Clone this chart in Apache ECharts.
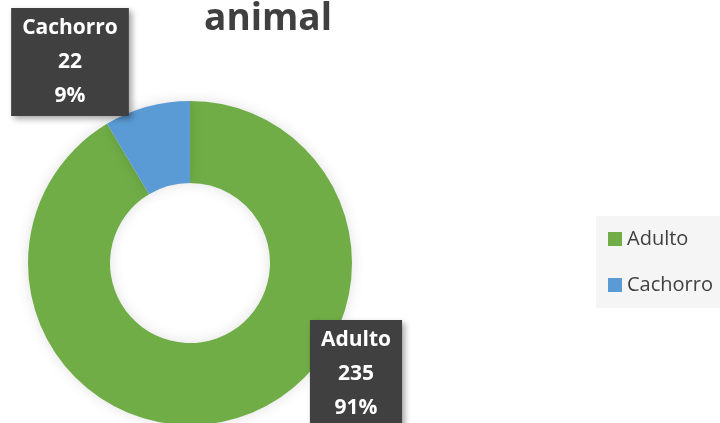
<!DOCTYPE html>
<html>
<head>
<meta charset="utf-8">
<script src="https://cdn.jsdelivr.net/npm/echarts@6/dist/echarts.min.js"></script>
<style>
    html, body { margin: 0; padding: 0; background: #fff; }
    #chart { width: 720px; height: 423px; }
</style>
</head>
<body>
<div id="chart"></div>
<script>
    let categories = ['Adulto', 'Cachorro'];
    let values = [235, 22];
    let colors = ['#70ad47', '#5b9bd5'];

    // label anchor points (centre of each box)
    let label_pos = [[356, 374], [70, 62]];

    let chart = echarts.init(document.getElementById('chart'));
    let option = {
        backgroundColor: '#ffffff',
        color: colors,
        title: {
            text: 'animal',
            left: 263,
            top: -4,
            textAlign: 'center',
            textStyle: {
                fontFamily: 'Open Sans',
                fontSize: 37,
                fontWeight: 'bold',
                color: '#404040'
            }
        },
        legend: {
            orient: 'vertical',
            left: 596,
            top: 216,
            padding: [12, 40, 12, 12],
            backgroundColor: '#f5f5f5',
            itemWidth: 14,
            itemHeight: 14,
            itemGap: 24,
            icon: 'rect',
            data: categories,
            textStyle: {
                fontFamily: 'Open Sans',
                fontSize: 20,
                lineHeight: 22,
                color: '#404040'
            }
        },
        series: [
            {
                name: 'animal',
                type: 'pie',
                center: [190, 263],
                radius: [80, 162],
                startAngle: 90,
                percentPrecision: 0,
                avoidLabelOverlap: false,
                silent: true,
                data: categories.map(function (c, i) {
                    return {name: c, value: values[i]};
                }),
                itemStyle: {
                    borderWidth: 0,
                    shadowBlur: 14,
                    shadowColor: 'rgba(0,0,0,0.12)'
                },
                labelLine: {show: false},
                label: {
                    show: true,
                    position: 'outside',
                    formatter: '{b}\n{c}\n{d}%',
                    fontFamily: 'Open Sans',
                    fontSize: 21,
                    fontWeight: 'bold',
                    lineHeight: 34,
                    color: '#ffffff',
                    backgroundColor: '#404040',
                    padding: [3, 11, 3, 11],
                    shadowBlur: 6,
                    shadowOffsetX: 3,
                    shadowOffsetY: 3,
                    shadowColor: 'rgba(0,0,0,0.35)'
                },
                labelLayout: function (params) {
                    let p = label_pos[params.dataIndex];
                    return {
                        x: p[0],
                        y: p[1],
                        align: 'center',
                        verticalAlign: 'middle',
                        moveOverlap: null
                    };
                }
            }
        ]
    };
    chart.setOption(option, true);
</script>
</body>
</html>
